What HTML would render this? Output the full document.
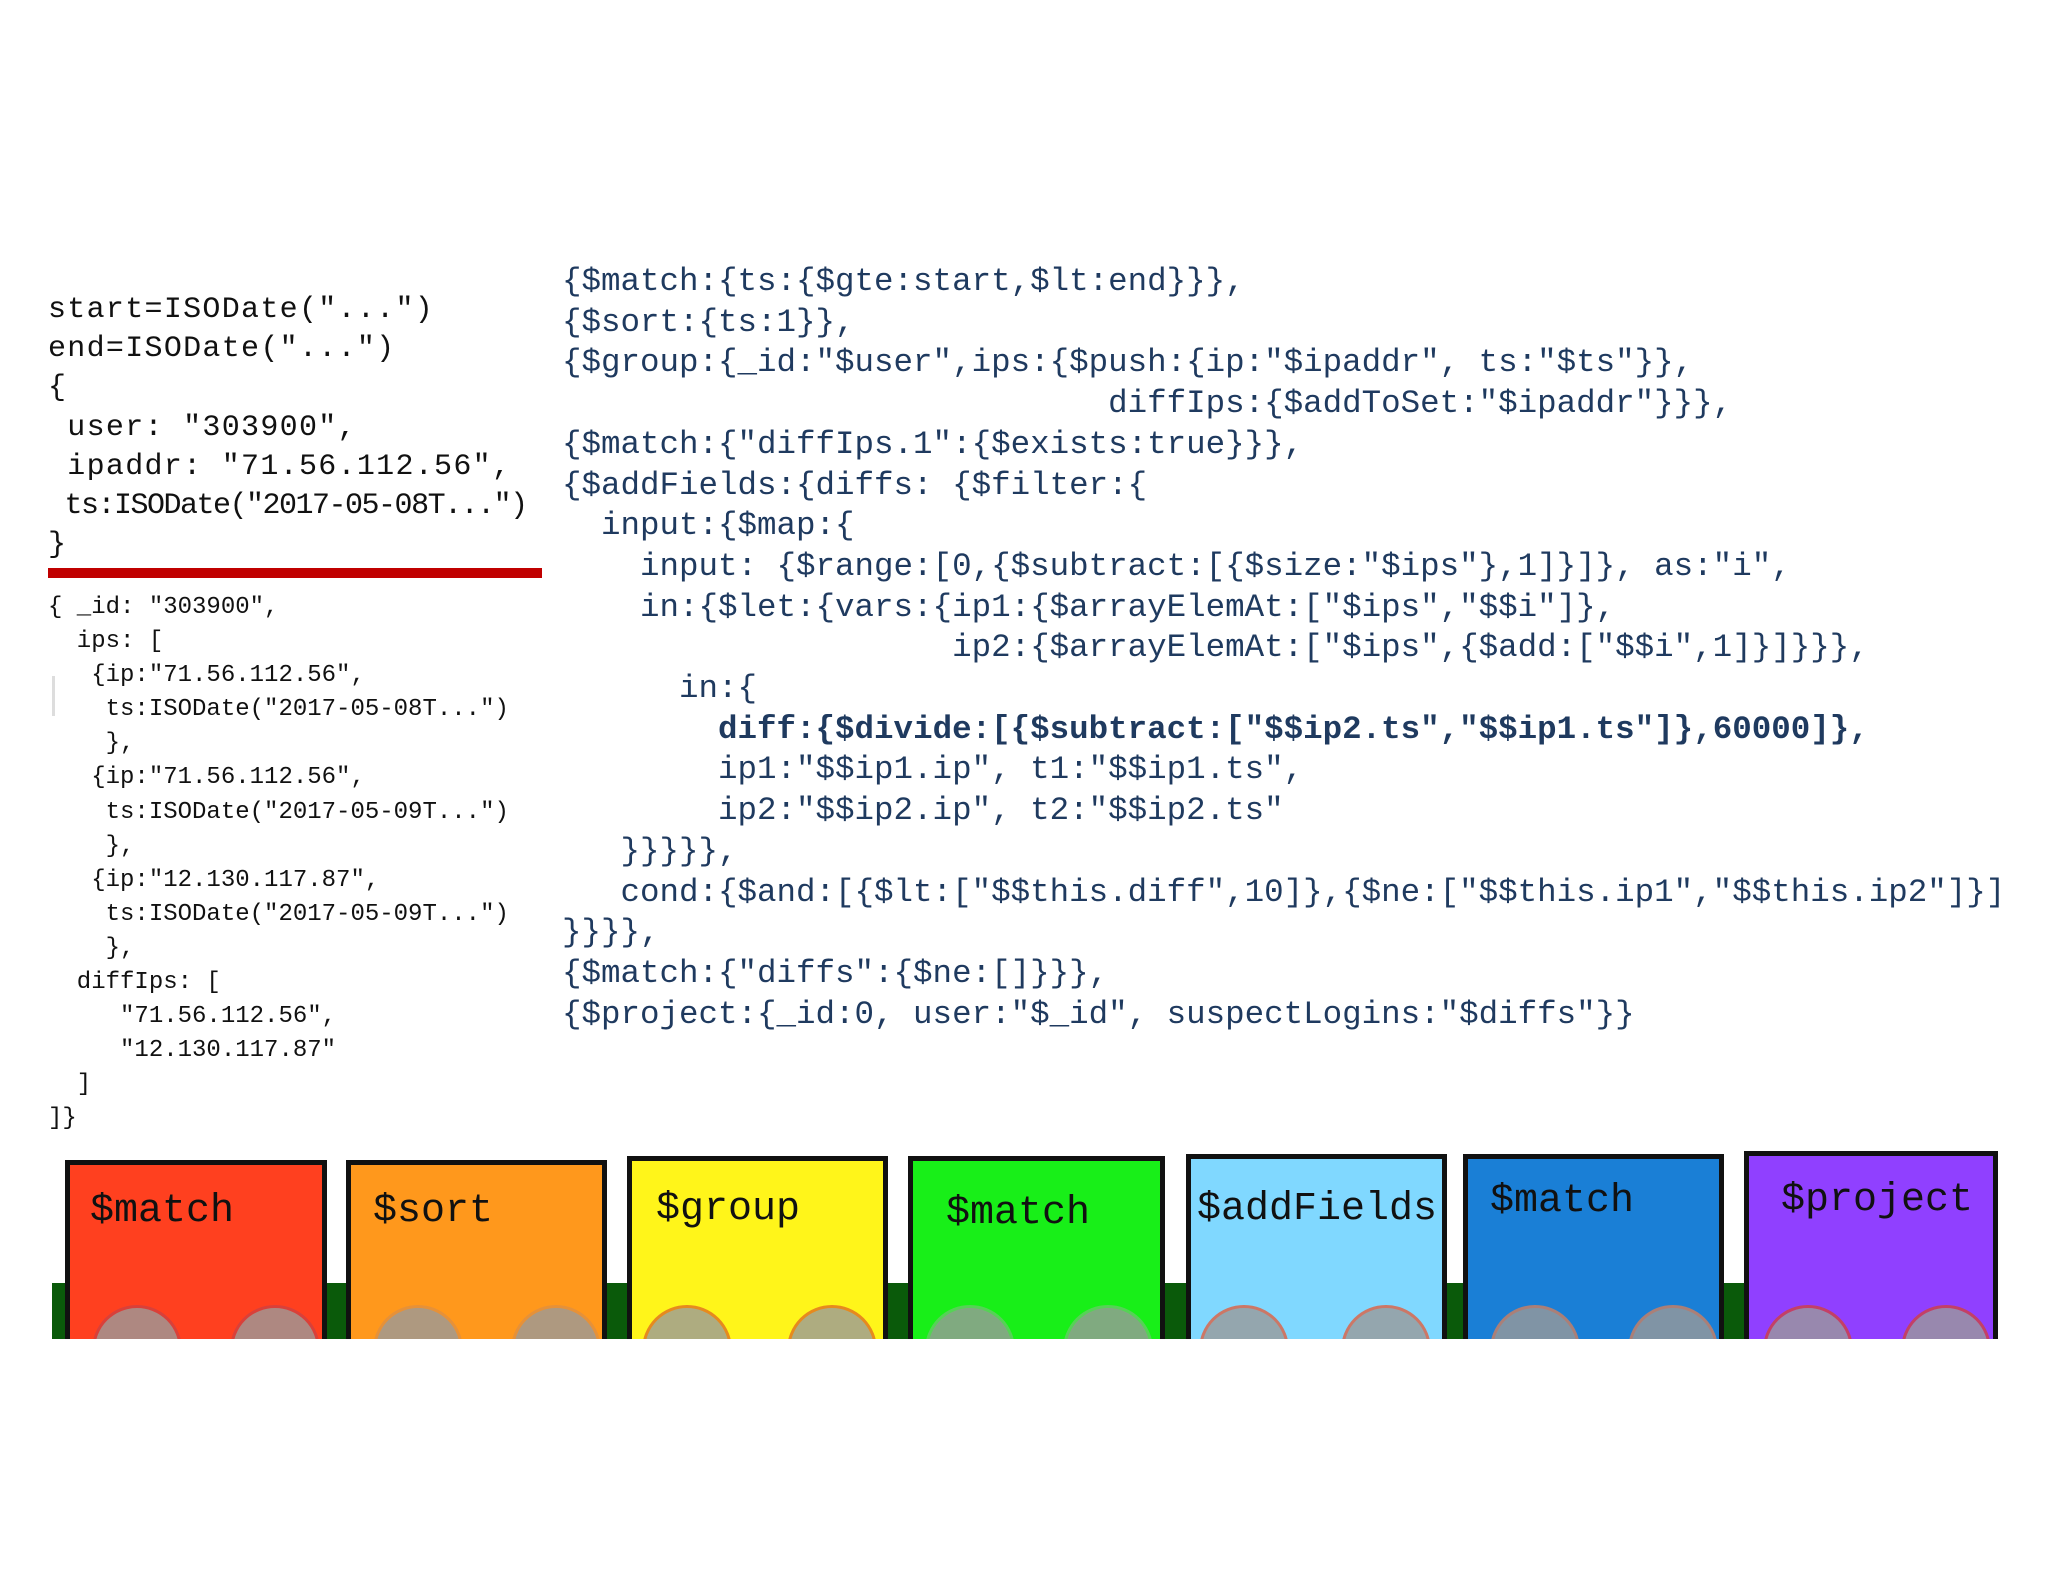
<!DOCTYPE html>
<html><head><meta charset="utf-8"><style>
html,body{margin:0;padding:0;background:#fff;}
body{width:2048px;height:1582px;position:relative;overflow:hidden;}
.t{position:absolute;white-space:pre;font-family:"Liberation Mono",monospace;}
#a{left:48px;top:291px;font-size:30px;line-height:39.2px;color:#111;letter-spacing:1.3px;}
#b{left:48px;top:591px;font-size:24px;line-height:34.1px;color:#111;}
#c{left:562px;top:262px;font-size:32.5px;line-height:40.7px;color:#1f3a5f;width:1443px;overflow:hidden;}
.red{position:absolute;left:48px;top:568px;width:494px;height:10px;background:#c00000;}
.bar{position:absolute;left:52px;top:1283px;width:1946px;height:56px;background:#0a5a0a;}
.blk{position:absolute;bottom:243px;border:5px solid #111;border-bottom:none;box-sizing:border-box;overflow:hidden;}
.blk span{position:absolute;font-family:"Liberation Mono",monospace;font-size:40px;color:#111;white-space:pre;}
.c{position:absolute;width:84px;height:84px;border-radius:50%;background:#9a9a9a;border:3px solid #d04040;top:calc(100% - 34px);opacity:.8;}
</style></head><body>
<div class="t" id="a">start=ISODate("...")
end=ISODate("...")
{
 user: "303900",
 ipaddr: "71.56.112.56",
<span style="letter-spacing:-1.5px"> ts:ISODate("2017-05-08T...")</span>
}</div>
<div class="red"></div>
<div class="t" id="b">{ _id: "303900",
  ips: [
   {ip:"71.56.112.56",
    ts:ISODate("2017-05-08T...")
    },
   {ip:"71.56.112.56",
    ts:ISODate("2017-05-09T...")
    },
   {ip:"12.130.117.87",
    ts:ISODate("2017-05-09T...")
    },
  diffIps: [
     "71.56.112.56",
     "12.130.117.87"
  ]
]}</div>
<div style="position:absolute;left:52px;top:676px;width:3px;height:40px;background:#ddd"></div>
<div class="t" id="c">{$match:{ts:{$gte:start,$lt:end}}},
{$sort:{ts:1}},
{$group:{_id:"$user",ips:{$push:{ip:"$ipaddr", ts:"$ts"}},
                            diffIps:{$addToSet:"$ipaddr"}}},
{$match:{"diffIps.1":{$exists:true}}},
{$addFields:{diffs: {$filter:{
  input:{$map:{
    input: {$range:[0,{$subtract:[{$size:"$ips"},1]}]}, as:"i",
    in:{$let:{vars:{ip1:{$arrayElemAt:["$ips","$$i"]},
                    ip2:{$arrayElemAt:["$ips",{$add:["$$i",1]}]}}},
      in:{
        <b>diff:{$divide:[{$subtract:["$$ip2.ts","$$ip1.ts"]},60000]},</b>
        ip1:"$$ip1.ip", t1:"$$ip1.ts",
        ip2:"$$ip2.ip", t2:"$$ip2.ts"
   }}}}},
   cond:{$and:[{$lt:["$$this.diff",10]},{$ne:["$$this.ip1","$$this.ip2"]}]}
}}}},
{$match:{"diffs":{$ne:[]}}},
{$project:{_id:0, user:"$_id", suspectLogins:"$diffs"}}</div>
<div class="bar"></div>
<div class="blk" style="left:65px;width:262px;height:179px;background:#ff401f"><span style="left:20px;top:24px">$match</span><div class="c" style="left:22px"></div><div class="c" style="left:160px"></div></div>
<div class="blk" style="left:346px;width:261px;height:179px;background:#ff981c"><span style="left:22px;top:24px">$sort</span><div class="c" style="left:22px;border-color:#e09040"></div><div class="c" style="left:160px;border-color:#e09040"></div></div>
<div class="blk" style="left:627px;width:261px;height:183px;background:#fff51a"><span style="left:24px;top:26px">$group</span><div class="c" style="left:10px;border-color:#e07020"></div><div class="c" style="left:155px;border-color:#e07020"></div></div>
<div class="blk" style="left:908px;width:257px;height:183px;background:#18ef18"><span style="left:33px;top:30px">$match</span><div class="c" style="left:12px;border-color:#6c6"></div><div class="c" style="left:150px;border-color:#6c6"></div></div>
<div class="blk" style="left:1186px;width:261px;height:185px;background:#80d8ff"><span style="left:6px;top:28px">$addFields</span><div class="c" style="left:8px;border-color:#e06040"></div><div class="c" style="left:150px;border-color:#e06040"></div></div>
<div class="blk" style="left:1463px;width:261px;height:185px;background:#1a7fd6"><span style="left:22px;top:20px">$match</span><div class="c" style="left:22px;border-color:#d08060"></div><div class="c" style="left:160px;border-color:#d08060"></div></div>
<div class="blk" style="left:1744px;width:254px;height:188px;background:#9040ff"><span style="left:32px;top:22px">$project</span><div class="c" style="left:14px"></div><div class="c" style="left:152px"></div></div>
</body></html>
